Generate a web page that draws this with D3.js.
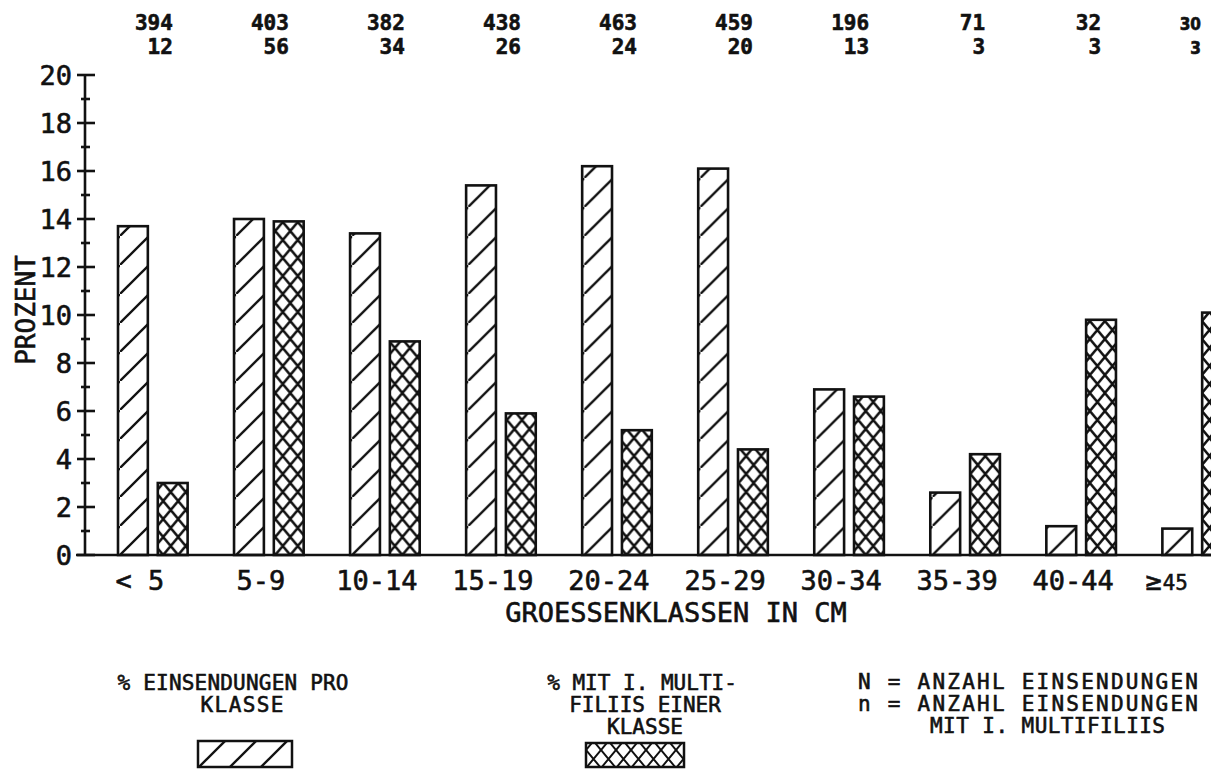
<!DOCTYPE html>
<html>
<head>
<meta charset="utf-8">
<script src="https://cdn.jsdelivr.net/npm/d3@7"></script>
<style>
  html, body { margin: 0; padding: 0; background: #fff; }
  svg { display: block; }
  text { font-family: "DejaVu Sans Mono", monospace; fill: #111; stroke: #111; stroke-width: 0.6px; }
</style>
</head>
<body>
<svg id="chart" width="1211" height="769"></svg>
<script>
// data
var categories = ["< 5", "5-9", "10-14", "15-19", "20-24", "25-29", "30-34", "35-39", "40-44", "≥45"];
var pctSubmissions = [13.7, 14.0, 13.4, 15.4, 16.2, 16.1, 6.9, 2.6, 1.2, 1.1];
var pctMultifiliis = [3.0, 13.9, 8.9, 5.9, 5.2, 4.4, 6.6, 4.2, 9.8, 10.1];
var countN = [394, 403, 382, 438, 463, 459, 196, 71, 32, 30];
var countn = [12, 56, 34, 26, 24, 20, 13, 3, 3, 3];
var yTickLabels = [0, 2, 4, 6, 8, 10, 12, 14, 16, 18, 20];
var yMinorTicks = [1, 3, 5, 7, 9, 11, 13, 15, 17, 19];
var seriesKeys = ["pct", "multi"];

var svg = d3.select("#chart");
var defs = svg.append("defs");

// scales
var x = d3.scaleBand().domain(categories).range([118, 1232]).paddingInner(0.4).paddingOuter(0);
var xs = d3.scaleBand().domain(seriesKeys).range([0, x.bandwidth()]).paddingInner(0.25);
var y = d3.scaleLinear().domain([0, 20]).range([555, 75]);
var axisX = 85;

var hatchStep = 29;
var crossW = 15, crossH = 18;

function hatchPattern(id, px, py, step) {
  var p = defs.append("pattern")
    .attr("id", id)
    .attr("patternUnits", "userSpaceOnUse")
    .attr("x", px).attr("y", py)
    .attr("width", step).attr("height", step);
  p.append("rect").attr("width", step).attr("height", step).attr("fill", "#fff");
  p.append("line").attr("x1", -2).attr("y1", step + 2).attr("x2", step + 2).attr("y2", -2)
    .attr("stroke", "#111").attr("stroke-width", 2.3);
}

function crossPattern(id, px, py, sw) {
  var p = defs.append("pattern")
    .attr("id", id)
    .attr("patternUnits", "userSpaceOnUse")
    .attr("x", px).attr("y", py)
    .attr("width", crossW).attr("height", crossH);
  p.append("rect").attr("width", crossW).attr("height", crossH).attr("fill", "#fff");
  p.append("path")
    .attr("d", "M-1,-1.2L" + (crossW + 1) + "," + (crossH + 1.2) + "M" + (crossW + 1) + ",-1.2L-1," + (crossH + 1.2))
    .attr("stroke", "#111").attr("stroke-width", sw).attr("fill", "none");
}

// bars
var rows = categories.map(function(c, i) {
  return { cat: c, i: i, pct: pctSubmissions[i], multi: pctMultifiliis[i] };
});

var groups = svg.append("g").selectAll("g")
  .data(rows)
  .enter().append("g")
  .attr("transform", function(d) { return "translate(" + x(d.cat) + ",0)"; });

groups.each(function(d) {
  var g = d3.select(this);
  var x0 = x(d.cat);
  hatchPattern("hatch" + d.i, x0 + xs("pct"), y(0), hatchStep);
  crossPattern("cross" + d.i, x0 + xs("multi") + xs.bandwidth() / 2 - crossW / 2, y(0), 2.5);

  g.append("rect")
    .attr("x", xs("pct"))
    .attr("y", y(d.pct))
    .attr("width", xs.bandwidth())
    .attr("height", y(0) - y(d.pct))
    .attr("fill", "url(#hatch" + d.i + ")")
    .attr("stroke", "#111")
    .attr("stroke-width", 2.6);

  g.append("rect")
    .attr("x", xs("multi"))
    .attr("y", y(d.multi))
    .attr("width", xs.bandwidth())
    .attr("height", y(0) - y(d.multi))
    .attr("fill", "url(#cross" + d.i + ")")
    .attr("stroke", "#111")
    .attr("stroke-width", 2.6);
});

// y axis
svg.append("line")
  .attr("x1", axisX).attr("x2", axisX)
  .attr("y1", y(0)).attr("y2", y(20))
  .attr("stroke", "#111").attr("stroke-width", 2.6);

svg.append("g").selectAll("line")
  .data(yTickLabels)
  .enter().append("line")
  .attr("x1", axisX - 8).attr("x2", axisX + 10)
  .attr("y1", function(d) { return y(d); }).attr("y2", function(d) { return y(d); })
  .attr("stroke", "#111").attr("stroke-width", 2.6);

svg.append("g").selectAll("line")
  .data(yMinorTicks)
  .enter().append("line")
  .attr("x1", axisX - 4).attr("x2", axisX + 5)
  .attr("y1", function(d) { return y(d); }).attr("y2", function(d) { return y(d); })
  .attr("stroke", "#111").attr("stroke-width", 2.6);

var yAxis = d3.axisLeft(y).tickValues(yTickLabels).tickSize(0).tickPadding(0);
var yg = svg.append("g").attr("transform", "translate(" + (axisX - 13) + ",0)").call(yAxis);
yg.select(".domain").remove();
yg.selectAll("text")
  .attr("dy", "0.36em")
  .style("font-size", "27px")
  .style("font-family", "DejaVu Sans Mono, monospace")
  .style("fill", "#111");

// x axis line
svg.append("line")
  .attr("x1", 76).attr("x2", 1211)
  .attr("y1", y(0)).attr("y2", y(0))
  .attr("stroke", "#111").attr("stroke-width", 2.6);

// category labels
var xl = svg.append("g").selectAll("text")
  .data(categories)
  .enter().append("text")
  .attr("x", function(d) { return x(d) + x.bandwidth() / 2 - 8; })
  .attr("y", 590)
  .attr("text-anchor", "middle")
  .style("font-size", "27px");

xl.each(function(d) {
  var t = d3.select(this);
  if (d.charAt(0) === "≥") {
    t.attr("x", x(d) - 17).attr("text-anchor", "start");
    t.append("tspan").text("≥");
    t.append("tspan").style("font-size", "22px").style("font-family", "DejaVu Sans Condensed, sans-serif")
      .attr("dx", 1).text(d.slice(1));
  } else if (d.charAt(0) === "<") {
    t.attr("x", x(d) + x.bandwidth() / 2 - 13).text(d);
  } else {
    t.text(d);
  }
});

// N and n above groups
function countX(d) { return Math.min(x(d.cat) + x.bandwidth() / 2 + 20, 1201); }

var counts = svg.append("g").selectAll("g")
  .data(rows)
  .enter().append("g");

counts.append("text")
  .attr("x", countX)
  .attr("y", 30)
  .attr("text-anchor", "end")
  .style("font-size", function(d) { return d.i === 9 ? "17px" : "21px"; })
  .style("font-family", function(d) { return d.i === 9 ? "DejaVu Sans Condensed, sans-serif" : null; })
  .style("font-weight", "bold")
  .text(function(d) { return countN[d.i]; });

counts.append("text")
  .attr("x", countX)
  .attr("y", 54)
  .attr("text-anchor", "end")
  .style("font-size", function(d) { return d.i === 9 ? "17px" : "21px"; })
  .style("font-family", function(d) { return d.i === 9 ? "DejaVu Sans Condensed, sans-serif" : null; })
  .style("font-weight", "bold")
  .text(function(d) { return countn[d.i]; });

// axis titles
svg.append("text")
  .attr("transform", "translate(35,310) rotate(-90)")
  .attr("text-anchor", "middle")
  .style("font-size", "26px")
  .text("PROZENT");

svg.append("text")
  .attr("x", 676).attr("y", 622)
  .attr("text-anchor", "middle")
  .style("font-size", "27px")
  .text("GROESSENKLASSEN IN CM");

// legend
var legLeft = ["% EINSENDUNGEN PRO", "KLASSE"];
var legMid = ["% MIT I. MULTI-", "FILIIS EINER", "KLASSE"];
var legRight = ["N = ANZAHL EINSENDUNGEN", "n = ANZAHL EINSENDUNGEN", "MIT I. MULTIFILIIS"];

svg.append("g").selectAll("text").data(legLeft).enter().append("text")
  .attr("x", function(d, i) { return i === 0 ? 233 : 242; })
  .attr("y", function(d, i) { return 690 + i * 22; })
  .attr("text-anchor", "middle")
  .attr("textLength", function(d, i) { return i === 0 ? 231 : 83; })
  .attr("lengthAdjust", "spacing")
  .style("font-size", "21px")
  .text(function(d) { return d; });

svg.append("g").selectAll("text").data(legMid).enter().append("text")
  .attr("x", function(d, i) { return i === 0 ? 642 : 645; })
  .attr("y", function(d, i) { return 690 + i * 22; })
  .attr("text-anchor", "middle")
  .style("font-size", "21px")
  .text(function(d) { return d; });

svg.append("g").selectAll("text").data(legRight).enter().append("text")
  .attr("x", function(d, i) { return i === 2 ? 930 : 858; })
  .attr("y", function(d, i) { return 689 + i * 22; })
  .attr("textLength", function(d, i) { return i === 2 ? 235 : 340; })
  .attr("lengthAdjust", "spacing")
  .style("font-size", "21px")
  .text(function(d) { return d; });

hatchPattern("hatchLeg", 198, 768, 31);
crossPattern("crossLeg", 586, 768, 2);

svg.append("rect")
  .attr("x", 198).attr("y", 741).attr("width", 94).attr("height", 26)
  .attr("fill", "url(#hatchLeg)").attr("stroke", "#111").attr("stroke-width", 2.5);

svg.append("rect")
  .attr("x", 586).attr("y", 743).attr("width", 98).attr("height", 24)
  .attr("fill", "url(#crossLeg)").attr("stroke", "#111").attr("stroke-width", 2.5);
</script>
</body>
</html>
